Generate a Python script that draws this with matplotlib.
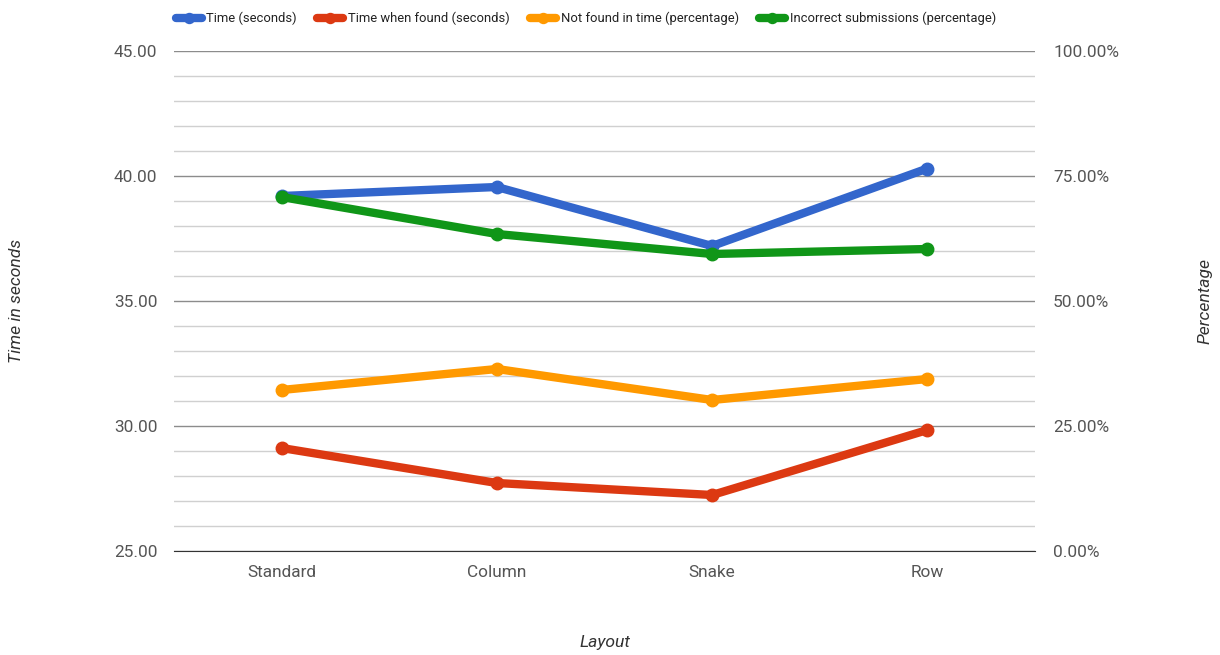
import numpy as np
import matplotlib.pyplot as plt
from matplotlib.ticker import FuncFormatter, MultipleLocator

plt.rcParams['font.family'] = ['Roboto', 'DejaVu Sans']

layouts = ["Standard", "Column", "Snake", "Row"]
time_sec = [39.2, 39.56, 37.2, 40.3]
time_found_sec = [29.12, 27.72, 27.24, 29.84]
not_found_pct = [32.2, 36.4, 30.2, 34.4]
incorrect_pct = [70.8, 63.4, 59.4, 60.4]

BLUE, RED, ORANGE, GREEN = "#3366cc", "#dc3912", "#ff9900", "#109618"
TICK_COLOR = "#555555"

x = np.arange(len(layouts))

W, H = 1220, 655
fig = plt.figure(figsize=(W / 100, H / 100), dpi=100)
ax = fig.add_axes([174 / W, 1 - 551 / H, 861 / W, 500 / H])
ax2 = ax.twinx()

style = dict(lw=6, marker="o", ms=9, solid_capstyle="round", solid_joinstyle="round")
h1, = ax.plot(x, time_sec, color=BLUE, label="Time (seconds)", **style)
h2, = ax.plot(x, time_found_sec, color=RED, label="Time when found (seconds)", **style)
h3, = ax2.plot(x, not_found_pct, color=ORANGE, label="Not found in time (percentage)", **style)
h4, = ax2.plot(x, incorrect_pct, color=GREEN, label="Incorrect submissions (percentage)", **style)

ax.set_xlim(-0.5, len(layouts) - 0.5)
ax.set_ylim(25, 45)
ax2.set_ylim(0, 100)

# gridlines: dark every 5 s, light every 1 s
ax.yaxis.set_major_locator(MultipleLocator(5))
ax.yaxis.set_minor_locator(MultipleLocator(1))
ax2.yaxis.set_major_locator(MultipleLocator(25))
ax.grid(which="major", axis="y", color="#8c8c8c", lw=1)
ax.grid(which="minor", axis="y", color="#d0d0d0", lw=1)
ax.set_axisbelow(True)

ax.yaxis.set_major_formatter(FuncFormatter(lambda v, p: f"{v:.2f}"))
ax2.yaxis.set_major_formatter(FuncFormatter(lambda v, p: f"{v:.2f}%"))

ax.set_xticks(x)
ax.set_xticklabels(layouts)

for a in (ax, ax2):
    for s in a.spines.values():
        s.set_visible(False)
    a.tick_params(which="both", length=0, labelsize=12.4, colors=TICK_COLOR)
ax.tick_params(axis="y", pad=12)
ax2.tick_params(axis="y", pad=13)
ax.tick_params(axis="x", pad=10)

ax.spines["bottom"].set_visible(True)
ax.spines["bottom"].set_color("#333333")

# axis titles placed in figure pixels
label_kw = dict(fontsize=12.6, style="italic", color="#333333", ha="center", va="center")
fig.text(605 / W, 1 - 643 / H, "Layout", **label_kw)
fig.text(17 / W, 1 - 301 / H, "Time in seconds", rotation=90, **label_kw)
fig.text(1205 / W, 1 - 301 / H, "Percentage", rotation=90, **label_kw)

fig.legend(handles=[h1, h2, h3, h4], loc="upper left", bbox_to_anchor=(164 / W, 1.0),
           ncol=4, frameon=False, fontsize=9.4, handlelength=2.0, handletextpad=0.35,
           columnspacing=1.55, labelcolor="#222222", markerscale=0.8)

fig.savefig("out.png", dpi=100)
